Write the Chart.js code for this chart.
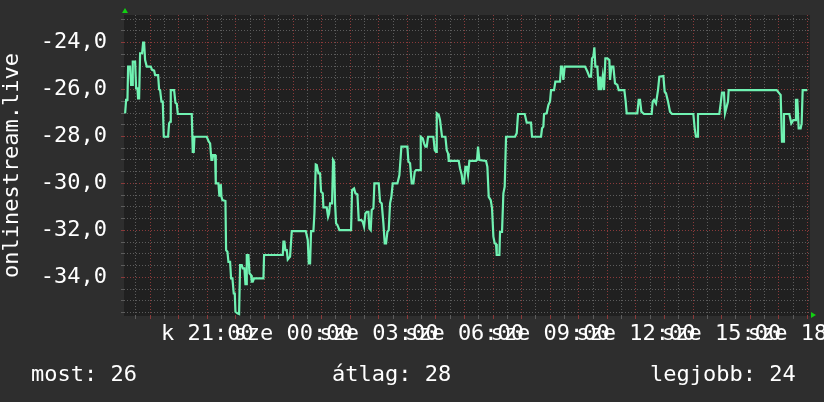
<!DOCTYPE html>
<html lang="hu">
<head>
<meta charset="UTF-8">
<title>onlinestream.live</title>
<script src="https://cdn.jsdelivr.net/npm/chart.js"></script>
<style>
    body { margin: 0; background: #2e2e2e; }
    #wrap { position: relative; width: 824px; height: 402px; }
    .stat {
        position: absolute;
        top: 363px;
        color: #fff;
        font: 22px/22px "DejaVu Sans Mono", monospace;
        white-space: pre;
    }
</style>
</head>
<body>
<div id="wrap">
    <canvas id="graph" width="824" height="402"></canvas>
    <div class="stat" style="left:31px">most: 26</div>
    <div class="stat" style="left:332px">átlag: 28</div>
    <div class="stat" style="left:650px">legjobb: 24</div>
</div>
<script>
// hours counted from Tuesday 18:00
const times = [
    0.119, 0.154, 0.201, 0.224, 0.294, 0.329, 0.364, 0.387, 0.469, 0.504, 0.551, 0.574, 0.609, 0.644, 0.714, 0.749, 0.784, 0.819, 0.877, 1.017,
    1.064, 1.134, 1.169, 1.274, 1.309, 1.344, 1.391, 1.437, 1.472, 1.624, 1.659, 1.694, 1.717, 1.834, 1.881, 1.928, 1.963, 2.452, 2.487, 2.522,
    2.546, 2.977, 3.048, 3.094, 3.141, 3.176, 3.199, 3.269, 3.293, 3.386, 3.421, 3.444, 3.468, 3.491, 3.526, 3.631, 3.654, 3.701, 3.736, 3.794,
    3.829, 3.876, 3.922, 3.958, 3.981, 4.051, 4.109, 4.144, 4.203, 4.238, 4.296, 4.331, 4.354, 4.378, 4.436, 4.471, 4.530, 4.553, 4.588, 4.634,
    4.961, 4.984, 5.638, 5.661, 5.696, 5.731, 5.778, 5.813, 5.894, 5.953, 6.443, 6.513, 6.548, 6.594, 6.629, 6.711, 6.746, 6.793, 6.828, 6.886,
    6.944, 6.979, 7.037, 7.061, 7.177, 7.224, 7.259, 7.294, 7.364, 7.399, 7.434, 7.469, 7.504, 7.551, 7.621, 8.029, 8.064, 8.134, 8.181, 8.251,
    8.297, 8.391, 8.437, 8.484, 8.531, 8.577, 8.636, 8.671, 8.717, 8.752, 8.811, 8.846, 8.997, 9.044, 9.102, 9.161, 9.207, 9.254, 9.301, 9.347,
    9.394, 9.441, 9.487, 9.651, 9.721, 9.791, 10.001, 10.036, 10.094, 10.152, 10.211, 10.258, 10.304, 10.444, 10.468, 10.538, 10.584, 10.631, 10.678, 10.724,
    10.911, 10.958, 11.004, 11.028, 11.098, 11.144, 11.214, 11.331, 11.378, 11.424, 11.448, 11.798, 11.844, 11.903, 11.938, 11.984, 12.031, 12.078, 12.124, 12.171,
    12.404, 12.439, 12.474, 12.521, 12.754, 12.801, 12.848, 12.918, 12.964, 13.011, 13.058, 13.104, 13.128, 13.221, 13.244, 13.314, 13.361, 13.407, 13.454, 13.769,
    13.828, 13.874, 14.108, 14.178, 14.318, 14.329, 14.364, 14.679, 14.714, 14.761, 14.784, 14.877, 14.936, 14.994, 15.029, 15.134, 15.181, 15.344, 15.379, 15.414,
    15.461, 15.507, 15.554, 16.219, 16.301, 16.371, 16.429, 16.464, 16.511, 16.546, 16.581, 16.651, 16.697, 16.744, 16.779, 16.837, 16.884, 16.931, 17.001, 17.071,
    17.094, 17.141, 17.211, 17.269, 17.351, 17.398, 17.596, 17.643, 17.678, 18.051, 18.098, 18.144, 18.191, 18.284, 18.553, 18.588, 18.634, 18.704, 18.774, 18.821,
    18.961, 19.008, 19.054, 19.124, 19.194, 19.264, 20.011, 20.058, 20.104, 20.151, 20.174, 20.921, 20.968, 21.014, 21.084, 21.119, 21.178, 21.224, 21.248, 22.928,
    23.021, 23.068, 23.114, 23.161, 23.184, 23.371, 23.441, 23.511, 23.581, 23.604, 23.651, 23.698, 23.768, 23.803, 23.838, 24.001
];
const temps = [
    -27.01, -26.44, -26.44, -25.02, -25.02, -25.80, -25.80, -24.81, -24.81, -25.95, -25.95, -26.37, -26.37, -24.45, -24.45, -24.00, -24.00, -24.74, -25.02, -25.02,
    -25.16, -25.19, -25.38, -25.38, -25.99, -26.02, -26.51, -26.51, -28.01, -28.01, -27.44, -27.37, -26.02, -26.02, -26.56, -26.61, -27.04, -27.04, -28.65, -28.65,
    -28.01, -28.01, -28.22, -28.29, -29.00, -29.00, -28.79, -28.79, -30.00, -30.00, -30.56, -30.14, -30.03, -30.56, -30.71, -30.75, -32.84, -32.91, -33.34, -33.34,
    -34.05, -34.05, -34.69, -34.69, -35.47, -35.54, -35.57, -33.48, -33.48, -33.62, -33.62, -34.29, -34.29, -33.05, -33.05, -33.83, -33.91, -34.19, -34.19, -34.05,
    -34.05, -33.05, -33.05, -32.48, -32.48, -32.84, -32.84, -33.24, -33.12, -32.03, -32.03, -32.41, -33.41, -33.41, -32.03, -32.03, -31.28, -29.19, -29.21, -29.57,
    -29.57, -30.35, -30.42, -31.02, -31.02, -31.42, -31.28, -30.85, -30.85, -29.00, -29.07, -30.85, -31.70, -31.77, -31.99, -31.99, -30.28, -30.21, -30.42, -30.47,
    -31.56, -31.56, -31.63, -31.84, -31.28, -31.21, -31.21, -31.92, -31.99, -31.13, -31.06, -30.00, -30.00, -30.78, -30.85, -31.70, -32.56, -32.56, -32.06, -31.99,
    -30.85, -30.57, -30.00, -30.00, -29.64, -28.43, -28.43, -29.07, -29.14, -30.00, -30.00, -29.50, -29.43, -29.43, -28.01, -28.08, -28.29, -28.43, -28.43, -28.01,
    -28.01, -28.58, -28.65, -27.01, -27.08, -27.30, -28.01, -28.01, -28.58, -28.72, -29.04, -29.04, -29.36, -29.64, -30.00, -30.00, -29.29, -29.29, -29.64, -29.04,
    -29.04, -29.00, -28.43, -29.00, -29.04, -29.29, -30.57, -30.71, -31.06, -32.27, -32.56, -32.58, -33.05, -33.05, -32.06, -32.06, -30.42, -30.14, -28.01, -28.01,
    -27.86, -27.04, -27.04, -27.41, -27.41, -27.41, -28.01, -28.01, -27.65, -27.58, -27.04, -27.01, -26.66, -26.51, -26.02, -26.02, -25.66, -25.66, -25.02, -25.02,
    -25.59, -25.02, -25.02, -25.02, -25.23, -25.45, -25.45, -24.67, -24.59, -24.20, -25.02, -25.02, -26.02, -25.45, -26.02, -25.45, -26.02, -24.67, -24.67, -24.74,
    -25.59, -25.02, -25.02, -25.73, -25.80, -26.02, -26.02, -26.51, -27.01, -27.01, -26.44, -26.44, -26.94, -27.04, -27.04, -26.51, -26.44, -26.59, -26.02, -25.45,
    -25.42, -26.09, -26.16, -26.51, -26.94, -27.04, -27.04, -27.65, -28.01, -28.01, -27.04, -27.04, -26.59, -26.13, -26.13, -27.01, -26.73, -26.51, -26.02, -26.02,
    -26.16, -26.23, -28.22, -28.22, -27.04, -27.04, -27.44, -27.30, -27.30, -26.44, -26.44, -27.65, -27.65, -27.44, -26.02, -26.02
];

const xLabelHours = [3, 6, 9, 12, 15, 18, 21, 24];
const xLabelTexts = ['k 21:00', 'sze 00:00', 'sze 03:00', 'sze 06:00', 'sze 09:00', 'sze 12:00', 'sze 15:00', 'sze 18:00'];
const yLabelValues = [-34, -32, -30, -28, -26, -24];

const FONT = { family: 'DejaVu Sans Mono', size: 22 };
const GRID_MINOR = '#5c5c5c';
const GRID_MAJOR = '#8a3a3a';

function near(a, b) { return Math.abs(a - b) < 1e-6; }

const plotBg = {
    id: 'plotBg',
    beforeDraw(chart) {
        const a = chart.chartArea, c = chart.ctx;
        c.save();
        c.fillStyle = '#202020';
        c.fillRect(a.left, a.top, a.right - a.left, a.bottom - a.top);
        c.restore();
    }
};

// little green arrow heads at the axis ends
const arrows = {
    id: 'arrows',
    afterDraw(chart) {
        const a = chart.chartArea, c = chart.ctx;
        c.save();
        c.fillStyle = '#12d012';
        c.beginPath();
        c.moveTo(a.left + 1, a.top - 7);
        c.lineTo(a.left - 2, a.top - 2);
        c.lineTo(a.left + 4, a.top - 2);
        c.fill();
        c.beginPath();
        c.moveTo(a.right + 6, a.bottom - 1);
        c.lineTo(a.right + 1, a.bottom - 4);
        c.lineTo(a.right + 1, a.bottom + 2);
        c.fill();
        c.restore();
    }
};

new Chart(document.getElementById('graph'), {
    type: 'line',
    data: {
        datasets: [{
            data: times.map((t, i) => ({ x: t, y: temps[i] })),
            borderColor: '#70f2b2',
            borderWidth: 2.2,
            pointRadius: 0,
            tension: 0
        }]
    },
    options: {
        responsive: false,
        devicePixelRatio: 1,
        animation: false,
        layout: { padding: { top: 15, right: 14, bottom: 0, left: 0 } },
        plugins: { legend: { display: false }, tooltip: { enabled: false } },
        scales: {
            x: {
                type: 'linear',
                min: 0.08,
                max: 24.095,
                afterFit(s) { s.height = 86; s.paddingLeft = 0; s.paddingRight = 0; },
                border: { display: false, dash: [1, 2] },
                grid: {
                    color: ctx => near(ctx.tick.value, Math.round(ctx.tick.value)) ? GRID_MAJOR : GRID_MINOR,
                    tickLength: 3
                },
                ticks: {
                    stepSize: 0.5,
                    maxTicksLimit: 1000,
                    includeBounds: false,
                    autoSkip: false,
                    maxRotation: 0,
                    minRotation: 0,
                    padding: 2,
                    color: '#fff',
                    font: FONT,
                    callback: v => {
                        const i = xLabelHours.findIndex(h => near(h, v));
                        return i < 0 ? '' : xLabelTexts[i];
                    }
                }
            },
            y: {
                min: -35.65,
                max: -22.82,
                afterFit(s) { s.width = 124; s.paddingTop = 0; s.paddingBottom = 0; },
                border: { display: false, dash: [1, 2] },
                grid: {
                    color: ctx => yLabelValues.some(v => near(v, ctx.tick.value)) ? GRID_MAJOR : GRID_MINOR,
                    tickLength: 3
                },
                ticks: {
                    stepSize: 0.5,
                    maxTicksLimit: 1000,
                    includeBounds: false,
                    autoSkip: false,
                    padding: 14,
                    color: '#fff',
                    font: FONT,
                    callback: v => yLabelValues.some(y => near(y, v)) ? v.toFixed(1).replace('.', ',') : ''
                },
                title: {
                    display: true,
                    text: 'onlinestream.live',
                    color: '#fff',
                    font: FONT,
                    padding: { top: -1, bottom: 0 }
                }
            }
        }
    },
    plugins: [plotBg, arrows]
});
</script>
</body>
</html>
